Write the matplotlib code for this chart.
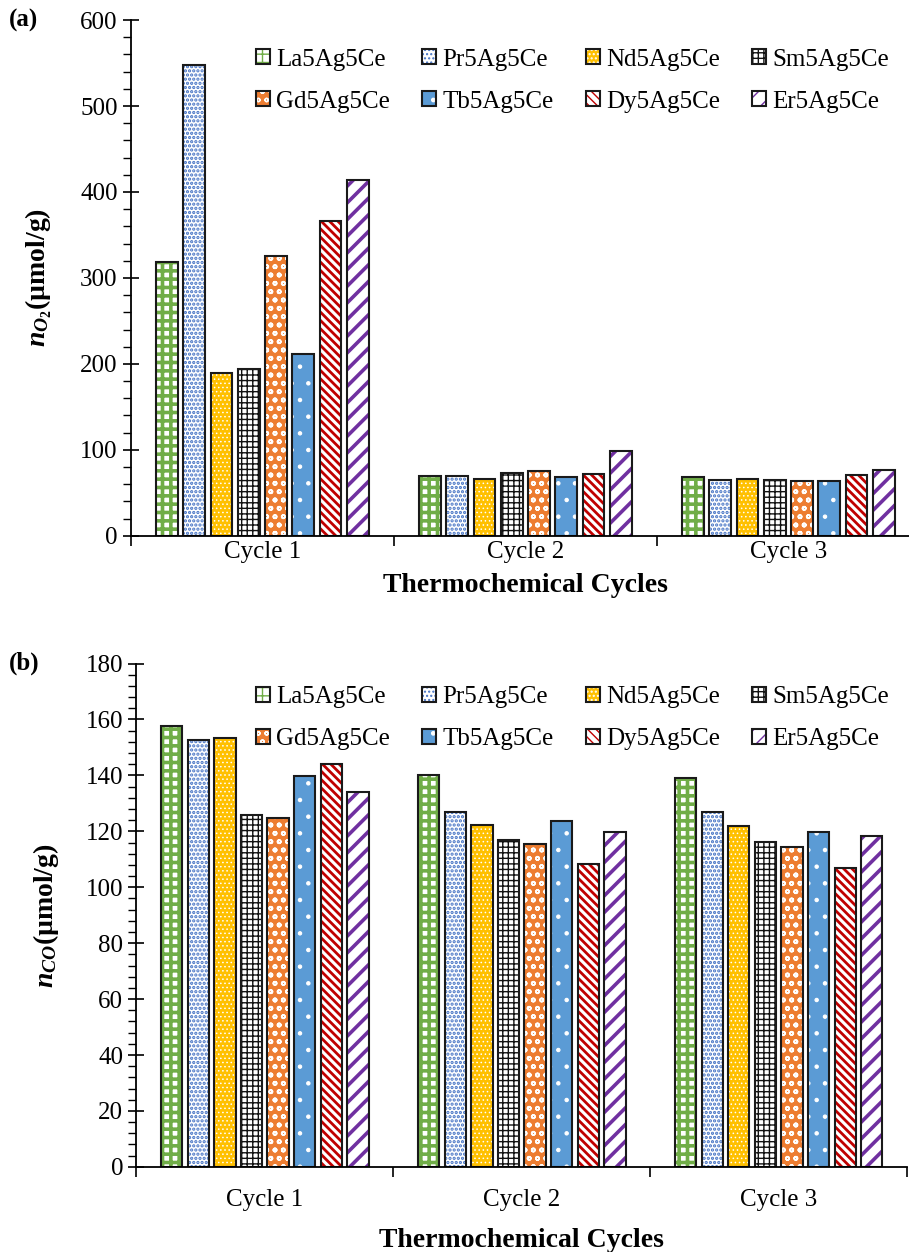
import numpy as np
import matplotlib
matplotlib.use('Agg')
import matplotlib.pyplot as plt
from matplotlib.ticker import MultipleLocator

plt.rcParams['font.family'] = ['Liberation Serif', 'DejaVu Serif']
plt.rcParams['mathtext.fontset'] = 'custom'
plt.rcParams['mathtext.it'] = 'Liberation Serif:italic:bold'
plt.rcParams['mathtext.rm'] = 'Liberation Serif:bold'

cycles = ['Cycle 1', 'Cycle 2', 'Cycle 3']
samples = ['La5Ag5Ce', 'Pr5Ag5Ce', 'Nd5Ag5Ce', 'Sm5Ag5Ce',
           'Gd5Ag5Ce', 'Tb5Ag5Ce', 'Dy5Ag5Ce', 'Er5Ag5Ce']

# (a) O2 produced, umol/g, one row per sample: cycle 1, 2, 3
o2 = {
    'La5Ag5Ce': [319, 70, 68.5],
    'Pr5Ag5Ce': [548, 70, 65],
    'Nd5Ag5Ce': [189, 66, 66],
    'Sm5Ag5Ce': [194.5, 73.5, 65.5],
    'Gd5Ag5Ce': [325.5, 75.5, 64],
    'Tb5Ag5Ce': [211, 68.5, 64],
    'Dy5Ag5Ce': [366, 72.5, 71],
    'Er5Ag5Ce': [414, 98.5, 76.5],
}
# (b) CO produced, umol/g
co = {
    'La5Ag5Ce': [157.8, 140.3, 139],
    'Pr5Ag5Ce': [152.8, 127, 126.8],
    'Nd5Ag5Ce': [153.5, 122.4, 121.8],
    'Sm5Ag5Ce': [125.9, 116.9, 116.3],
    'Gd5Ag5Ce': [124.9, 115.4, 114.5],
    'Tb5Ag5Ce': [139.7, 123.6, 119.6],
    'Dy5Ag5Ce': [144, 108.3, 107],
    'Er5Ag5Ce': [134, 119.6, 118.4],
}

# face colour, hatch colour, hatch, hatch linewidth
styles = {
    'La5Ag5Ce': ('white', '#70AD47', '++', 2.6),
    'Pr5Ag5Ce': ('white', '#4472C4', '....', 1.6),
    'Nd5Ag5Ce': ('#FFC000', 'white', '....', 0.6),
    'Sm5Ag5Ce': ('white', '#111111', '+++', 1.0),
    'Gd5Ag5Ce': ('#ED7D31', 'white', 'oo', 1.2),
    'Tb5Ag5Ce': ('#5B9BD5', 'white', '.', 0.8),
    'Dy5Ag5Ce': ('white', '#C00000', '\\\\\\\\', 2.0),
    'Er5Ag5Ce': ('white', '#7030A0', '//', 2.6),
}

fig = plt.figure(figsize=(9.09, 12.52), dpi=100)
ax_a = fig.add_axes([0.144, 0.572, 0.868, 0.412])
ax_b = fig.add_axes([0.150, 0.068, 0.848, 0.402])

slot = 0.1035
width = 0.083
x = np.arange(len(cycles))


def draw_panel(ax, data, ymax, major, minor, ylabel, tag, legend_y,
               tickpad, xlabelpad):
    handles = []
    for i, s in enumerate(samples):
        face, hc, h, hlw = styles[s]
        pos = x + (i - 3.5) * slot
        with plt.rc_context({'hatch.linewidth': hlw}):
            b1 = ax.bar(pos, data[s], width, color=face, edgecolor=hc,
                        hatch=h, linewidth=0)
        b2 = ax.bar(pos, data[s], width, fill=False, edgecolor='#1a1a1a',
                    linewidth=1.5)
        handles.append((b1[0], b2[0]))

    ax.set_xlim(-0.5, 2.5)
    ax.set_ylim(0, ymax)
    ax.set_xticks([-0.5, 0.5, 1.5, 2.5])
    ax.set_xticklabels([])
    ax.set_xticks(x, minor=True)
    ax.set_xticklabels(cycles, minor=True, fontsize=18)
    ax.tick_params(axis='x', which='major', direction='out', length=7, width=1.2)
    ax.tick_params(axis='x', which='minor', length=0, pad=tickpad)
    ax.yaxis.set_major_locator(MultipleLocator(major))
    ax.yaxis.set_minor_locator(MultipleLocator(minor))
    ax.tick_params(axis='y', which='major', direction='inout', length=12,
                   width=1.2, labelsize=18)
    ax.tick_params(axis='y', which='minor', direction='out', length=6, width=1.0)
    for sp in ['top', 'right']:
        ax.spines[sp].set_visible(False)
    for sp in ['left', 'bottom']:
        ax.spines[sp].set_linewidth(1.3)
    ax.set_xlabel('Thermochemical Cycles', fontsize=20, fontweight='bold',
                  labelpad=xlabelpad)
    ax.set_ylabel(ylabel, fontsize=20, fontweight='bold')
    ax.yaxis.set_label_coords(-0.098, 0.5)
    fig.text(0.01, ax.get_position().y1, tag, fontsize=18, fontweight='bold',
             va='center')
    # matplotlib fills legend columns first; reorder so rows read across
    order = [0, 4, 1, 5, 2, 6, 3, 7]
    ax.legend([handles[k] for k in order], [samples[k] for k in order],
              ncol=4, loc='upper right',
              bbox_to_anchor=(1.003, legend_y), bbox_transform=fig.transFigure,
              frameon=False, fontsize=18, handlelength=0.55, handleheight=0.55,
              handletextpad=0.25, columnspacing=1.3, labelspacing=0.8)


draw_panel(ax_a, o2, 600, 100, 20, r'$n_{O_2}$(µmol/g)', '(a)', 0.979, 4, 7)
draw_panel(ax_b, co, 180, 20, 4, r'$n_{CO}$(µmol/g)', '(b)', 0.470, 16, 12)

fig.savefig('out.png', dpi=100)
